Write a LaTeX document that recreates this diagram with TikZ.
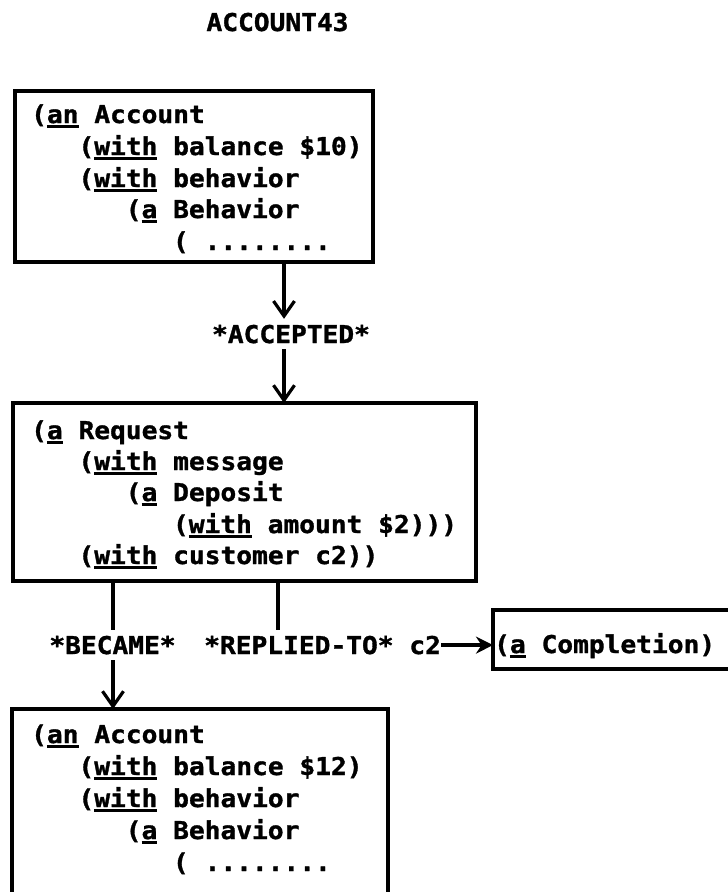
\documentclass[tikz,border=0pt]{standalone}
\usepackage{fontspec}
\newfontfamily\lpfont{DejaVu Sans Mono}[FakeStretch=1.07,FakeBold=1.3]
\usetikzlibrary{arrows.meta}
\newcommand\undl[1]{\setbox0\hbox{#1}\rlap{\rule[-4.5pt]{\wd0}{2.2pt}}\box0\relax}
\begin{document}
\begin{tikzpicture}[x=1pt,y=-1pt,
  txt/.style={font=\lpfont\bfseries\fontsize{24.5}{28}\selectfont, inner sep=0pt},
  code/.style={txt, anchor=base west},
  lbl/.style={txt, outer ysep=6pt},
  box/.style={draw, line width=3.6pt, anchor=north west, inner sep=0pt, outer sep=0pt},
  link/.style={line width=3.4pt},
  arr/.style={link, -{Straight Barb[length=15pt,width=21pt,line width=3.2pt]}},
  harr/.style={link, -{Stealth[length=17pt,width=17pt]}},
]
\useasboundingbox (0,0) rectangle (728,892);
\fill[white] (0,0) rectangle (728,892);
\clip (0,0) rectangle (728,892);

% title
\node[txt, anchor=base] (title) at (277.5,31) {ACCOUNT43};

% box 1
\node[box, minimum width=358pt, minimum height=171pt] (b1) at (15,91) {};
\node[code] (b1l1) at (31,123)    {(\undl{an} Account};
\node[code] (b1l2) at (78.3,155)  {(\undl{with} balance \$10)};
\node[code] (b1l3) at (78.3,187)  {(\undl{with} behavior};
\node[code] (b1l4) at (125.6,218) {(\undl{a} Behavior};
\node[code] (b1l5) at (172.8,250) {( ........};

% accepted
\node[lbl, anchor=base] (acc) at (291,343) {*ACCEPTED*};
\coordinate (xa) at (284,0);
\draw[arr] (b1.south -| xa) -- (acc.north -| xa);

% box 2
\node[box, minimum width=463pt, minimum height=178pt] (b2) at (13,403) {};
\node[code] (b2l1) at (31,439)    {(\undl{a} Request};
\node[code] (b2l2) at (78.3,470)  {(\undl{with} message};
\node[code] (b2l3) at (125.6,501) {(\undl{a} Deposit};
\node[code] (b2l4) at (172.8,533) {(\undl{with} amount \$2)))};
\node[code] (b2l5) at (78.3,564)  {(\undl{with} customer c2))};
\draw[arr] (acc.south -| xa) -- (b2.north -| xa);

% labels below box 2
\node[lbl, anchor=base] (bec) at (112.5,654) {*BECAME*};
\node[lbl, anchor=base west] (rep) at (204,654) {*REPLIED-TO* c2};
\coordinate (xb) at (113,0);
\coordinate (xr) at (278,0);
\draw[link] (b2.south -| xb) -- (bec.north -| xb);
\draw[link] (b2.south -| xr) -- (rep.north -| xr);

% completion
\node[box, minimum width=267pt, minimum height=59pt] (comp) at (493,610) {};
\node[code] (compt) at (494,653) {(\undl{a} Completion)};
\draw[harr] (rep.east) -- (rep.east -| comp.west);

% box 3
\node[box, minimum width=376pt, minimum height=241pt] (b3) at (12,709) {};
\node[code] (b3l1) at (31,743)    {(\undl{an} Account};
\node[code] (b3l2) at (78.3,775)  {(\undl{with} balance \$12)};
\node[code] (b3l3) at (78.3,807)  {(\undl{with} behavior};
\node[code] (b3l4) at (125.6,839) {(\undl{a} Behavior};
\node[code] (b3l5) at (172.8,871) {( ........};
\draw[arr] (bec.south -| xb) -- (b3.north -| xb);
\end{tikzpicture}
\end{document}
